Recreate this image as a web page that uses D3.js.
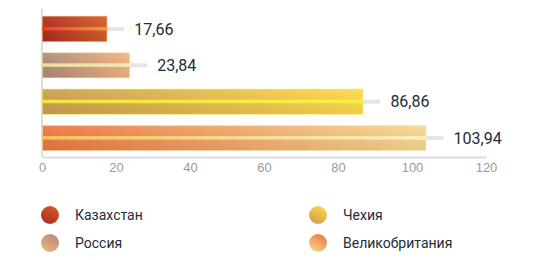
<!DOCTYPE html>
<html>
<head>
<meta charset="utf-8">
<script src="https://cdn.jsdelivr.net/npm/d3@7"></script>
<style>
  body { margin: 0; background: #fff; }
  svg { display: block; font-family: Roboto, "Noto Sans", sans-serif; }
</style>
</head>
<body>
<svg id="chart" width="560" height="260"></svg>
<script>
// chart data
const countries = ["Казахстан", "Россия", "Чехия", "Великобритания"];
const values = [17.66, 23.84, 86.86, 103.94];
const ticks = [0, 20, 40, 60, 80, 100, 120];

// per-series colours: [left, right, stripeLeft, stripeRight]
const palette = [
    ["#ae2a1e", "#d35c26", "#e8402a", "#f59a40"],
    ["#ad8a7b", "#f3b47e", "#eedca0", "#f3eab0"],
    ["#cc9e50", "#ffd94a", "#f0e640", "#f8f040"],
    ["#ec7640", "#f6d892", "#f4c658", "#f8efc0"]
];

const svg = d3.select("#chart");
const fmt = v => d3.format(".2f")(v).replace(".", ",");

const x = d3.scaleLinear().domain([0, 120]).range([42, 486]);
const y = d3.scaleBand().domain(countries).range([10, 157]).paddingInner(0.28).paddingOuter(0.16);

const defs = svg.append("defs");
palette.forEach((c, i) => {
    const g = defs.append("linearGradient").attr("id", "bar" + i)
        .attr("x1", 0).attr("y1", 0).attr("x2", 1).attr("y2", 0);
    g.append("stop").attr("offset", "0%").attr("stop-color", c[0]);
    g.append("stop").attr("offset", "100%").attr("stop-color", c[1]);
    const s = defs.append("linearGradient").attr("id", "stripe" + i)
        .attr("x1", 0).attr("y1", 0).attr("x2", 1).attr("y2", 0);
    s.append("stop").attr("offset", "0%").attr("stop-color", c[2]);
    s.append("stop").attr("offset", "100%").attr("stop-color", c[3]);
    const d = defs.append("linearGradient").attr("id", "dot" + i)
        .attr("x1", 0.2).attr("y1", 1).attr("x2", 0.8).attr("y2", 0);
    d.append("stop").attr("offset", "0%").attr("stop-color", i == 1 || i == 3 ? c[1] : c[0]);
    d.append("stop").attr("offset", "100%").attr("stop-color", i == 1 || i == 3 ? c[0] : c[1]);
});

// shade for lower half of bars
const shade = defs.append("linearGradient").attr("id", "shade")
    .attr("x1", 0).attr("y1", 0).attr("x2", 0).attr("y2", 1);
shade.append("stop").attr("offset", "0%").attr("stop-color", "#fff").attr("stop-opacity", 0.08);
shade.append("stop").attr("offset", "100%").attr("stop-color", "#000").attr("stop-opacity", 0.06);

// axes
const xAxis = svg.append("g")
    .attr("transform", `translate(0,${157})`)
    .call(d3.axisBottom(x).tickValues(ticks).tickSize(0).tickPadding(6));
xAxis.select(".domain").attr("stroke", "#dcdcdc").attr("stroke-width", 2);
xAxis.selectAll("text").attr("fill", "#9a9a9a").attr("font-size", 13);

svg.append("line")
    .attr("x1", x(0)).attr("x2", x(0))
    .attr("y1", 9).attr("y2", 157)
    .attr("stroke", "#d0d0d0").attr("stroke-width", 1.5);

const rows = svg.append("g").selectAll("g")
    .data(values)
    .join("g")
    .attr("transform", (d, i) => `translate(0,${y(countries[i])})`);

const bh = y.bandwidth();

// gray leader line
rows.append("rect")
    .attr("x", x(0))
    .attr("y", bh / 2 - 2)
    .attr("width", d => x(d) - x(0) + 17)
    .attr("height", 4)
    .attr("fill", "#e6e6e6");

rows.append("rect")
    .attr("x", x(0) + 0.5)
    .attr("y", 0.5)
    .attr("width", d => x(d) - x(0) - 1)
    .attr("height", bh - 1)
    .attr("fill", (d, i) => `url(#bar${i})`)
    .attr("stroke", (d, i) => palette[i][3])
    .attr("stroke-opacity", 0.45);

rows.append("rect")
    .attr("x", x(0) + 1)
    .attr("y", 1)
    .attr("width", d => x(d) - x(0) - 2)
    .attr("height", bh - 2)
    .attr("fill", "url(#shade)");

rows.append("rect")
    .attr("x", x(0))
    .attr("y", bh / 2 - 2)
    .attr("width", d => x(d) - x(0))
    .attr("height", 3.5)
    .attr("fill", (d, i) => `url(#stripe${i})`);

rows.append("text")
    .attr("x", d => x(d) + 27)
    .attr("y", bh / 2)
    .attr("dy", "0.35em")
    .attr("font-size", 16)
    .attr("fill", "#262b36")
    .text(d => fmt(d));

// legend
const legend = svg.append("g").selectAll("g")
    .data(countries)
    .join("g")
    .attr("transform", (d, i) => `translate(${i < 2 ? 50 : 318},${215 + (i % 2) * 28})`);

legend.append("circle")
    .attr("r", 9)
    .attr("fill", (d, i) => `url(#dot${i})`);

legend.append("text")
    .attr("x", 25)
    .attr("dy", "0.35em")
    .attr("font-size", 14)
    .attr("fill", "#262b36")
    .text(d => d);
</script>
</body>
</html>
